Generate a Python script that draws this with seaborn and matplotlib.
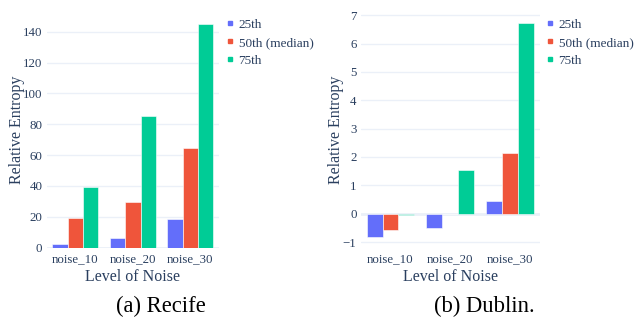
import numpy as np
import pandas as pd
import matplotlib
matplotlib.use('Agg')
import matplotlib.pyplot as plt
from matplotlib.lines import Line2D
import seaborn as sns

sns.set_style('white')
plt.rcParams['font.family'] = ['Liberation Serif', 'DejaVu Serif']

levels = ['noise_10', 'noise_20', 'noise_30']
percentiles = ['25th', '50th (median)', '75th']
colors = ['#636efa', '#ef553b', '#00cc96']

recife_25 = [2.2, 6.0, 18.5]
recife_50 = [19.4, 29.3, 64.7]
recife_75 = [39.0, 85.6, 145.0]

dublin_25 = [-0.81, -0.51, 0.46]
dublin_50 = [-0.56, -0.02, 2.13]
dublin_75 = [-0.05, 1.53, 6.73]

TEXT = '#2a3f5f'
GRID = '#ebf0f8'


def long_df(v25, v50, v75):
    rows = []
    for p, vals in zip(percentiles, [v25, v50, v75]):
        for lvl, v in zip(levels, vals):
            rows.append({'level': lvl, 'pct': p, 'value': v})
    return pd.DataFrame(rows)


fig = plt.figure(figsize=(6.34, 3.2), dpi=100)
W, H = 634, 320

# (data, x-extent px, y range, y ticks, legend x, ytitle x, caption x, caption)
panels = [
    (long_df(recife_25, recife_50, recife_75), (46.6, 219.1), (0, 152.6),
     [0, 20, 40, 60, 80, 100, 120, 140], 228, 16.7, 161, '(a) Recife'),
    (long_df(dublin_25, dublin_50, dublin_75), (360.7, 539.5), (-1.19, 7.1),
     [-1, 0, 1, 2, 3, 4, 5, 6, 7], 548, 336.5, 484, '(b) Dublin.'),
]

for df, (x0, x1), ylim, yticks, legx, ytx, capx, caption in panels:
    top, bottom = 12.3, 247.5
    ax = fig.add_axes([x0 / W, 1 - bottom / H, (x1 - x0) / W, (bottom - top) / H])
    sns.barplot(data=df, x='level', y='value', hue='pct', hue_order=percentiles,
                palette=colors, order=levels, width=0.8, gap=0, ax=ax, saturation=1,
                edgecolor='white', linewidth=0.4, errorbar=None, zorder=3,
                legend=False)
    ax.set_ylim(*ylim)
    ax.set_yticks(yticks)
    ax.set_yticklabels([str(t).replace('-', '\u2212') for t in yticks])
    ax.grid(axis='y', color=GRID, linewidth=1, zorder=0)
    ax.axhline(0, color=GRID, linewidth=2, zorder=1)
    for s in ax.spines.values():
        s.set_visible(False)
    ax.tick_params(axis='both', length=0, labelsize=9.3, labelcolor=TEXT)
    ax.tick_params(axis='y', pad=3)
    ax.tick_params(axis='x', pad=4)
    ax.set_xlabel('Level of Noise', fontsize=11.5, color=TEXT, labelpad=3)
    ax.set_ylabel('Relative Entropy', fontsize=11.5, color=TEXT)
    ax.yaxis.set_label_coords((ytx - x0) / (x1 - x0), 0.5)
    ax.yaxis.label.set_va('center')
    handles = [Line2D([], [], marker='s', linestyle='', color=c, markersize=3.2)
               for c in colors]
    ax.legend(handles, percentiles, loc='upper left', frameon=False,
              bbox_to_anchor=(legx / W, 1 - 18.5 / H), bbox_transform=fig.transFigure,
              handlelength=0.35, handletextpad=0.45,
              labelspacing=0.45, fontsize=9.5, labelcolor=TEXT, borderaxespad=0, borderpad=0)
    fig.text(capx / W, 1 - 306 / H, caption, ha='center', va='center',
             fontsize=16.3, color='black')

plt.savefig('out.png', dpi=100)
plt.close()
